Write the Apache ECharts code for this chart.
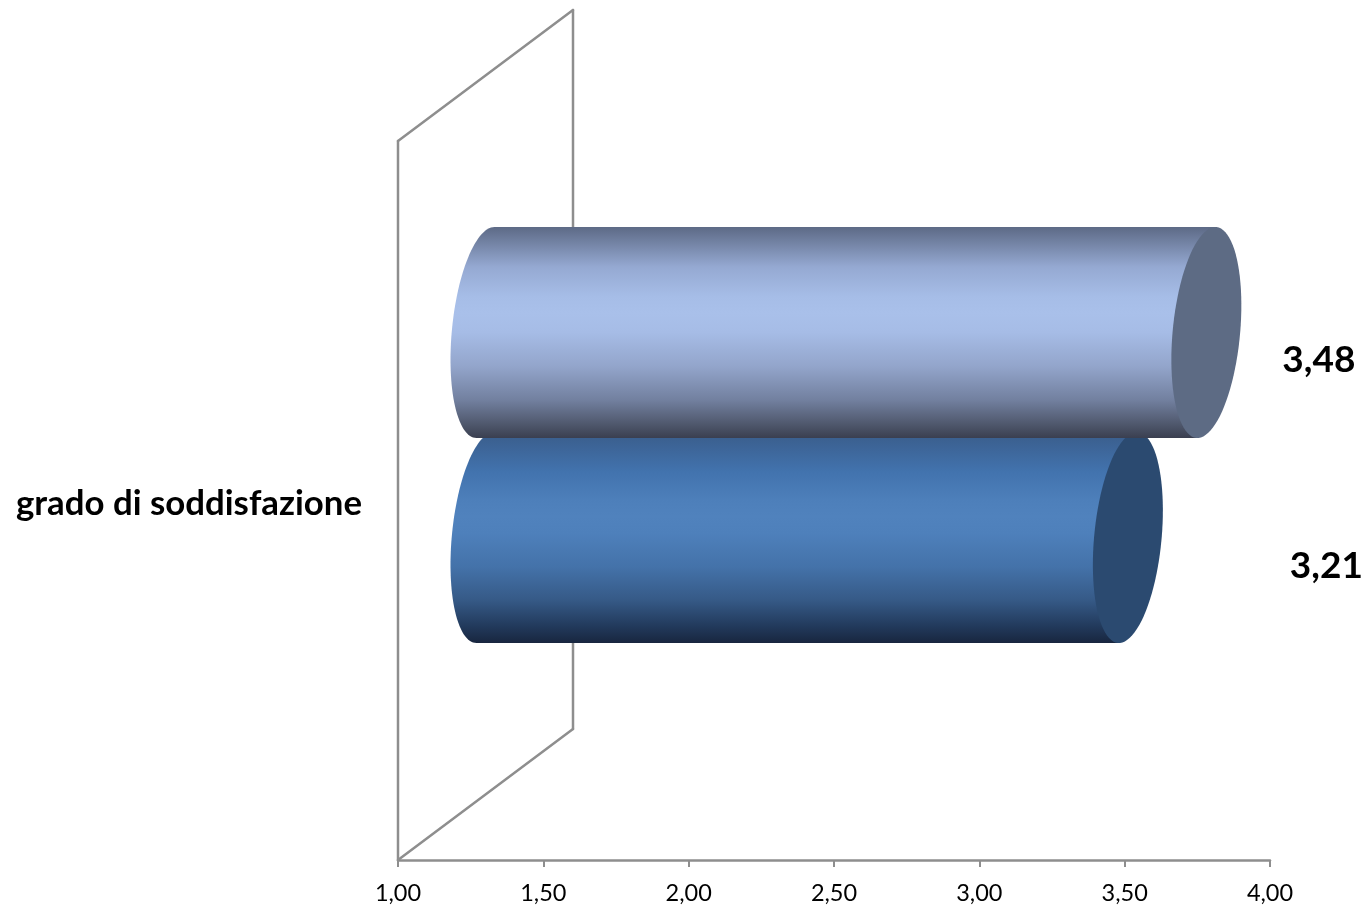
<!DOCTYPE html>
<html>
<head>
<meta charset="utf-8">
<style>html,body{margin:0;padding:0;background:#fff}#c{width:1369px;height:909px}</style>
<script src="https://cdn.jsdelivr.net/npm/echarts@6/dist/echarts.min.js"></script>
</head>
<body>
<div id="c"></div>
<script>
const categories = ['grado di soddisfazione'];
const seriesA = [3.48];
const seriesB = [3.21];
const axisMin = 1, axisMax = 4, axisStep = 0.5;

const DEPTH_X = 175, DEPTH_Y = 131;
const AXIS_GREY = '#8e8e8e';
const FONT = 'Lato, "Noto Sans", sans-serif';

function fmt(v){ return v.toFixed(2).replace('.', ','); }

function ellipsePoints(cx, cy, h, a, dx, t0, t1, n){
  const A = Math.sqrt(a*a - dx*dx), pts = [];
  for (let i = 0; i <= n; i++){
    const t = t0 + (t1 - t0) * i / n;
    pts.push([cx + A*Math.cos(t) - dx*Math.sin(t), cy + h*Math.sin(t)]);
  }
  return pts;
}

function stops(list){ return {type:'linear', x:0, y:0, x2:0, y2:1, colorStops:list.map(s=>({offset:s[0], color:s[1]}))}; }

function cylinder(opts){
  return function(params, api){
    const v = api.value(0), cat = api.value(1);
    const start = api.coord([axisMin, cat]);
    const end = api.coord([v, cat]);
    const cy = end[1] + opts.band - DEPTH_Y/2;
    const xL = start[0] + DEPTH_X/2, xR = end[0] + DEPTH_X/2;
    const h = 105.5, a = 35, dx = 9;
    const left = ellipsePoints(xL, cy, h, a, dx, -Math.PI/2, -3*Math.PI/2, 60);
    const body = left.concat([[xR - dx, cy + h], [xR + dx, cy - h]]);
    const cap = ellipsePoints(xR, cy, h, a, dx, 0, Math.PI*2, 90);
    return {type:'group', children:[
      {type:'polygon', shape:{points:body}, style:{fill:stops(opts.side)}},
      {type:'polygon', shape:{points:cap}, style:{fill:opts.cap}},
      {type:'text', style:{text:fmt(v), x:end[0] + opts.labelDx, y:end[1] + opts.labelDy,
        align:'center', verticalAlign:'middle', fill:'#000', font:'bold 37px ' + FONT}}
    ]};
  };
}

function wall(params, api){
  const frontX = api.coord([axisMin, 0])[0];
  const grid = params.coordSys;
  const top = grid.y, base = grid.y + grid.height;
  const line = (x1,y1,x2,y2)=>({type:'line', shape:{x1,y1,x2,y2}, style:{stroke:AXIS_GREY, lineWidth:2.5, lineCap:'round'}});
  return {type:'group', children:[
    line(frontX, base, frontX + DEPTH_X, base - DEPTH_Y),
    line(frontX + DEPTH_X, base - DEPTH_Y, frontX + DEPTH_X, top - DEPTH_Y),
    line(frontX + DEPTH_X, top - DEPTH_Y, frontX, top),
    line(frontX, top, frontX, base)
  ]};
}

const chart = echarts.init(document.getElementById('c'), null, {renderer:'canvas'});
chart.setOption({
  animation:false,
  backgroundColor:'#fff',
  grid:{left:398, top:141, width:872, height:719, containLabel:false},
  xAxis:{type:'value', min:axisMin, max:axisMax, interval:axisStep,
    splitLine:{show:false},
    axisLine:{show:true, lineStyle:{color:AXIS_GREY, width:2.5}},
    axisTick:{show:true, length:7, lineStyle:{color:AXIS_GREY, width:2}},
    axisLabel:{margin:21, color:'#000', fontFamily:FONT, fontSize:23.5, formatter:v=>fmt(v), showMinLabel:true, showMaxLabel:true}},
  yAxis:{type:'category', data:categories,
    axisLine:{show:false}, axisTick:{show:false}, splitLine:{show:false},
    axisLabel:{margin:36, formatter:'{t|{value}}',
      rich:{t:{color:'#000', fontFamily:FONT, fontWeight:'bold', fontSize:34.8, padding:[6,0,0,0]}}}},
  series:[
    {type:'custom', name:'piano', coordinateSystem:'cartesian2d', silent:true, z:1,
      renderItem:wall, data:[[axisMin, 0]], encode:{x:0, y:1}},
    {type:'custom', name:'B', coordinateSystem:'cartesian2d', z:2,
      renderItem:cylinder({band:102.5, cap:'#2b4a70', labelDx:286, labelDy:66,
        side:[[0,'#355888'],[0.03,'#3b6090'],[0.19,'#4273ae'],[0.32,'#4d7fba'],[0.4,'#5082bd'],[0.48,'#4e80bb'],[0.64,'#4472a9'],[0.795,'#365a87'],[0.92,'#223a5c'],[1,'#18263f']]}),
      data:seriesB.map((v,i)=>[v,i]), encode:{x:0, y:1}},
    {type:'custom', name:'A', coordinateSystem:'cartesian2d', z:3,
      renderItem:cylinder({band:-102.5, cap:'#5d6b84', labelDx:200, labelDy:-140,
        side:[[0,'#5d6a86'],[0.19,'#95a9d2'],[0.33,'#a6bde7'],[0.41,'#a9c0ea'],[0.5,'#a6bce6'],[0.66,'#93a5cb'],[0.82,'#72809f'],[0.945,'#4c5468'],[1,'#3a3f50']]}),
      data:seriesA.map((v,i)=>[v,i]), encode:{x:0, y:1}}
  ]
});
</script>
</body>
</html>
